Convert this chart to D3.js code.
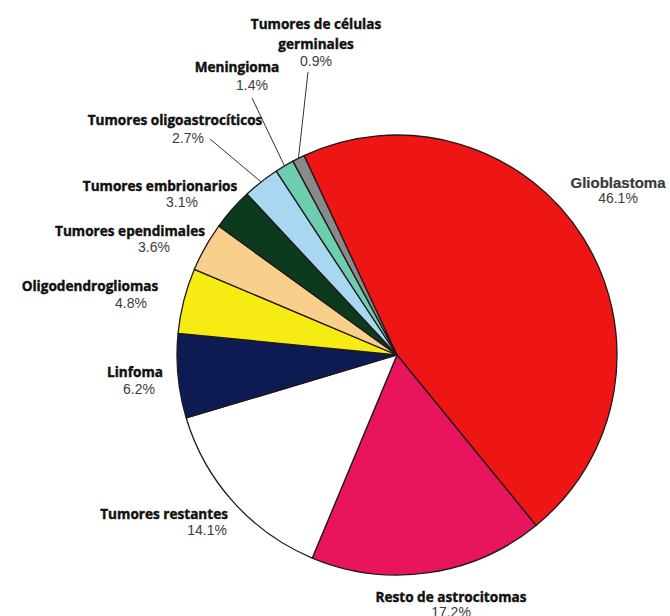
<!DOCTYPE html>
<html lang="es">
<head>
<meta charset="utf-8">
<script src="https://cdn.jsdelivr.net/npm/d3@7"></script>
<style>
  html, body { margin: 0; padding: 0; background: #fff; }
  svg { display: block; }
</style>
</head>
<body>
<svg id="chart" width="670" height="616"></svg>
<script>
// Distribución de tumores primarios del SNC (porcentaje de casos)
const categories = [
  "Glioblastoma",
  "Resto de astrocitomas",
  "Tumores restantes",
  "Linfoma",
  "Oligodendrogliomas",
  "Tumores ependimales",
  "Tumores embrionarios",
  "Tumores oligoastrocíticos",
  "Meningioma",
  "Tumores de células germinales"
];
const shares = [46.1, 17.2, 14.1, 6.2, 4.8, 3.6, 3.1, 2.7, 1.4, 0.9];
const sliceColors = [
  "#ee1515", "#e8145c", "#ffffff", "#0e1a52", "#f6eb12",
  "#f8cf8b", "#0b3a1d", "#a7d7f1", "#6dcdb0", "#8a8a8a"
];

// Label placement: name baseline, percentage baseline, optional leader line
const labelLayout = [
  { x: 618, y: 188, px: 618, py: 203, anchor: "middle", style: "alt" },
  { x: 451, y: 602, px: 451, py: 617, anchor: "middle" },
  { x: 228, y: 519, px: 227, py: 535, anchor: "end", pAnchor: "end" },
  { x: 135, y: 377, px: 139, py: 394, anchor: "middle" },
  { x: 90,  y: 291, px: 131, py: 308, anchor: "middle" },
  { x: 130, y: 236, px: 154, py: 252, anchor: "middle" },
  { x: 160, y: 191, px: 182, py: 207, anchor: "middle" },
  { x: 175, y: 125, px: 188, py: 143, anchor: "middle", leader: [210, 139] },
  { x: 237, y: 72,  px: 252, py: 90,  anchor: "middle", leader: [252, 98] },
  { x: 316, y: 29,  px: 316, py: 66,  anchor: "middle", leader: [308, 72], split: 3 }
];

const cx = 397, cy = 355, radius = 220;
const start = -25 * Math.PI / 180;

const data = categories.map((name, i) => ({ name, value: shares[i], color: sliceColors[i], layout: labelLayout[i] }));

const pie = d3.pie()
  .sort(null)
  .value(d => d.value)
  .startAngle(start)
  .endAngle(start + 2 * Math.PI);

const arc = d3.arc().innerRadius(0).outerRadius(radius);
const arcs = pie(data);

const svg = d3.select("#chart");
const g = svg.append("g").attr("transform", `translate(${cx},${cy})`);

g.selectAll("path.slice")
  .data(arcs)
  .join("path")
  .attr("class", "slice")
  .attr("d", arc)
  .attr("fill", d => d.data.color)
  .attr("stroke", "#221818")
  .attr("stroke-width", 1.3)
  .attr("stroke-linejoin", "round");

// Leader lines for the narrow slices
const edgePoint = d => {
  const a = (d.startAngle + d.endAngle) / 2;
  return [cx + radius * Math.sin(a), cy - radius * Math.cos(a)];
};

svg.selectAll("line.leader")
  .data(arcs.filter(d => d.data.layout.leader))
  .join("line")
  .attr("class", "leader")
  .attr("x1", d => d.data.layout.leader[0])
  .attr("y1", d => d.data.layout.leader[1])
  .attr("x2", d => edgePoint(d)[0])
  .attr("y2", d => edgePoint(d)[1])
  .attr("stroke", "#333")
  .attr("stroke-width", 1);

// Labels
const labels = svg.selectAll("g.label")
  .data(arcs)
  .join("g")
  .attr("class", "label");

labels.each(function (d) {
  const L = d.data.layout;
  const sel = d3.select(this);
  const alt = L.style === "alt";
  const ink = alt ? "#3a3a3a" : "#111";
  const name = sel.append("text")
    .attr("x", L.x)
    .attr("y", L.y)
    .attr("text-anchor", L.anchor)
    .attr("font-family", alt ? "'Liberation Sans', Arial, sans-serif" : "'Open Sans', sans-serif")
    .attr("font-weight", "bold")
    .attr("font-size", alt ? 15 : 13.6)
    .attr("fill", ink)
    .attr("stroke", ink)
    .attr("stroke-width", alt ? 0.2 : 0.4);
  if (L.split) {
    const words = d.data.name.split(" ");
    const lines = [words.slice(0, L.split).join(" "), words.slice(L.split).join(" ")];
    lines.forEach((t, i) => {
      name.append("tspan").attr("x", L.x).attr("dy", i === 0 ? 0 : 20).text(t);
    });
  } else {
    name.text(d.data.name);
  }
  sel.append("text")
    .attr("x", L.px)
    .attr("y", L.py)
    .attr("text-anchor", L.pAnchor || "middle")
    .attr("font-family", "'Liberation Sans', Arial, sans-serif")
    .attr("font-size", 14)
    .attr("fill", "#3c3c3c")
    .text(d3.format(".1f")(d.data.value) + "%");
});
</script>
</body>
</html>
